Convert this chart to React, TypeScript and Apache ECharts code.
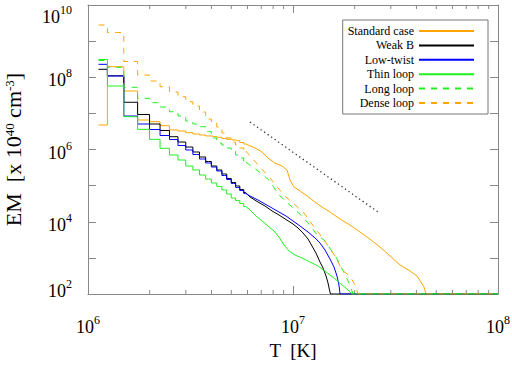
import React, { useEffect, useRef } from 'react';
import * as echarts from 'echarts';

// Bin centres (MK) of the low-temperature histogram part
const T_BINS_MK = [1.125, 1.375, 1.625, 1.875, 2.125, 2.375, 2.625, 2.875, 3.125, 3.375, 3.625, 3.875, 4.125, 4.375, 4.625, 4.875, 5.125, 5.375, 5.625, 5.875];

const STANDARD_LOW = [4.76e6, 1.96e8, 4.16e7, 6.56e6, 5.89e6, 4.56e6, 3.47e6, 3.25e6, 2.92e6, 2.69e6, 2.52e6, 2.37e6, 2.29e6, 2.18e6, 2.02e6, 1.91e6, 1.83e6, 1.75e6, 1.56e6, 1.42e6];
const WEAKB_LOW = [1.66e8, 1.10e8, 2.03e7, 9.3e6, 5.08e6, 3.36e6, 2.26e6, 1.61e6, 1.17e6, 8.53e5, 6.2e5, 4.65e5, 3.49e5, 2.71e5, 2.1e5, 1.57e5, 1.22e5, 9.8e4, 7.8e4, 6.46e4];
const LOWTWIST_LOW = [2.28e8, 1.08e8, 8.45e6, 5.08e6, 3.58e6, 2.44e6, 1.89e6, 1.29e6, 9.69e5, 7.27e5, 5.46e5, 4.23e5, 3.28e5, 2.54e5, 1.91e5, 1.48e5, 1.15e5, 8.87e4, 7.33e4, 6.06e4];
const THIN_LOW = [3.10e8, 5.73e7, 8.09e6, 3.62e6, 1.91e6, 1.08e6, 7.05e5, 5.12e5, 3.49e5, 2.71e5, 1.97e5, 1.52e5, 1.18e5, 9.5e4, 7.57e4, 5.86e4, 4.54e4, 3.87e4, 3.2e4, 2.64e4];
const LONG_LOW = [2.91e8, 1.88e8, 5.27e7, 2.61e7, 1.98e7, 1.5e7, 1.11e7, 8.45e6, 6.15e6, 5.08e6, 4.28e6, 3.11e6, 2.08e6, 1.51e6, 1.33e6, 1.1e6, 9.1e5, 7.05e5, 5.82e5, 4.51e5];
const DENSE_LOW = [2.79e9, 1.73e9, 2.73e8, 1.15e8, 7.87e7, 5.47e7, 3.91e7, 2.9e7, 2.1e7, 1.6e7, 1.09e7, 6.98e6, 5.77e6, 4.2e6, 2.86e6, 2.08e6, 1.61e6, 1.33e6, 1.1e6, 9.1e5];

// High-temperature part: [T (MK), EM]
const STANDARD_HIGH = [[5.875, 1.42e6], [6.53, 1.1e6], [7.06, 8.5e5], [7.55, 5.8e5], [8.17, 4.2e5], [8.84, 3.5e5], [9.35, 2.7e5], [9.67, 1.43e5], [10.11, 9.2e4], [10.82, 7.1e4], [11.7, 5.2e4], [12.81, 3.5e4], [13.85, 2.56e4], [15.15, 1.86e4], [16.96, 1.19e4], [18.97, 8.1e3], [21.22, 5.2e3], [23.74, 3.3e3], [26.57, 2.0e3], [29.72, 1.13e3], [33.26, 635], [37.21, 434], [40.26, 315], [42.11, 215], [43.56, 156], [44.55, 100], [100, 100]];
const WEAKB_HIGH = [[5.875, 6.46e4], [6.17, 4.84e4], [6.75, 3.52e4], [7.3, 2.73e4], [7.9, 1.99e4], [8.54, 1.54e4], [9.25, 1.15e4], [10.0, 8.67e3], [10.58, 6.71e3], [11.19, 4.89e3], [11.84, 3.33e3], [12.38, 2.13e3], [12.95, 1.36e3], [13.54, 769], [14.01, 525], [14.49, 315], [14.82, 202], [15.07, 129], [15.24, 100], [100, 100]];
const LOWTWIST_HIGH = [[5.875, 6.06e4], [6.17, 5.16e4], [6.75, 4.0e4], [7.3, 3.1e4], [7.9, 2.4e4], [8.54, 1.86e4], [9.25, 1.44e4], [10.0, 1.05e4], [10.82, 7.62e3], [11.84, 5.2e3], [12.81, 3.55e3], [13.54, 2.58e3], [14.33, 1.65e3], [15.15, 931], [15.85, 559], [16.39, 315], [16.76, 177], [16.96, 100], [100, 100]];
const THIN_HIGH = [[5.875, 2.64e4], [6.17, 2.11e4], [6.6, 1.44e4], [7.06, 1.05e4], [7.55, 7.62e3], [8.08, 5.55e3], [8.54, 3.78e3], [9.04, 2.27e3], [9.56, 1.55e3], [10.23, 1.2e3], [11.06, 993], [12.1, 769], [13.24, 596], [14.49, 406], [15.85, 277], [17.15, 189], [18.34, 137], [19.4, 100], [100, 100]];
const LONG_HIGH = [[5.875, 4.51e5], [6.45, 3.08e5], [7.06, 2.1e5], [7.72, 1.34e5], [8.45, 5.86e4], [10.0, 2.4e4], [11.06, 1.44e4], [11.84, 9.2e3], [13.24, 4.04e3], [14.17, 3.13e3], [16.21, 1.06e3], [17.74, 387], [18.97, 177], [19.62, 100], [100, 100]];
const DENSE_HIGH = [[5.875, 9.1e5], [6.24, 6.2e5], [6.83, 3.49e5], [7.72, 1.63e5], [8.45, 8.6e4], [9.35, 4.54e4], [10.0, 3.3e4], [11.31, 1.75e4], [12.66, 7.2e3], [14.17, 3.13e3], [16.03, 1.13e3], [17.34, 461], [18.97, 315], [20.07, 177], [20.75, 100], [100, 100]];

// Reference power-law line (T in MK, EM)
const REF_LINE = [[6.17, 5.77e6], [25.98, 1.86e4]];

const X_MINOR_TICKS = [2e6, 3e6, 4e6, 5e6, 6e6, 7e6, 8e6, 9e6, 2e7, 3e7, 4e7, 5e7, 6e7, 7e7, 8e7, 9e7];

const SERIES_DEFS = [
  { name: 'Standard case', color: '#ffa500', dashed: false, low: STANDARD_LOW, high: STANDARD_HIGH },
  { name: 'Weak B', color: '#000000', dashed: false, low: WEAKB_LOW, high: WEAKB_HIGH },
  { name: 'Low-twist', color: '#0000ff', dashed: false, low: LOWTWIST_LOW, high: LOWTWIST_HIGH },
  { name: 'Thin loop', color: '#22ee22', dashed: false, low: THIN_LOW, high: THIN_HIGH },
  { name: 'Long loop', color: '#22ee22', dashed: true, low: LONG_LOW, high: LONG_HIGH },
  { name: 'Dense loop', color: '#ffa500', dashed: true, low: DENSE_LOW, high: DENSE_HIGH },
];

const FONT = "'Liberation Serif', 'DejaVu Serif', serif";
const AXIS_COLOR = '#888888';

const labelRich = {
  b: { fontFamily: FONT, fontSize: 18, color: '#000', verticalAlign: 'bottom', padding: [6, 0, 0, 0] },
  s: { fontFamily: FONT, fontSize: 12, color: '#000', verticalAlign: 'bottom', padding: [0, 0, 10, 0] },
  bt: { fontFamily: FONT, fontSize: 18, color: '#000', verticalAlign: 'bottom', padding: [24, 0, 0, 0] },
  bb: { fontFamily: FONT, fontSize: 18, color: '#000', verticalAlign: 'bottom', padding: [0, 0, 10, 0] },
  sb: { fontFamily: FONT, fontSize: 12, color: '#000', verticalAlign: 'bottom', padding: [0, 0, 20, 0] },
};

export default function App() {
  const ref = useRef<HTMLDivElement>(null);
  useEffect(() => {
    if (!ref.current) return;
    const chart = echarts.init(ref.current, null, { renderer: 'svg' });
    const series: any[] = [];
    SERIES_DEFS.forEach((d) => {
      const lineStyle = { color: d.color, width: 1, type: d.dashed ? [6, 6] : 'solid' };
      series.push({
        name: d.name, type: 'line', step: 'middle', symbol: 'none', showSymbol: false, silent: true,
        data: T_BINS_MK.map((t, i) => [t * 1e6, d.low[i]]),
        lineStyle, itemStyle: { color: d.color },
      });
      series.push({
        name: d.name, type: 'line', symbol: 'none', showSymbol: false, silent: true,
        data: d.high.map(([t, v]) => [t * 1e6, v]),
        lineStyle, itemStyle: { color: d.color },
      });
    });
    series.push({
      name: 'ref', type: 'line', symbol: 'none', silent: true,
      data: REF_LINE.map(([t, v]) => [t * 1e6, v]),
      lineStyle: { color: '#333', width: 1.3, type: [1.3, 3] },
    });
    series.push({
      name: 'minorTicks', type: 'custom', silent: true, clip: false,
      data: X_MINOR_TICKS.map((v) => [v, 100]),
      renderItem: (params: any, api: any) => {
        const x = api.value(0);
        const b = api.coord([x, 1e2]);
        const t = api.coord([x, 1e10]);
        const st = { stroke: AXIS_COLOR, lineWidth: 1 };
        return {
          type: 'group',
          children: [
            { type: 'line', shape: { x1: b[0], y1: b[1], x2: b[0], y2: b[1] - 4 }, style: st },
            { type: 'line', shape: { x1: t[0], y1: t[1], x2: t[0], y2: t[1] + 4 }, style: st },
          ],
        };
      },
    });

    const expOf = (v: number) => Math.round(Math.log10(v));
    const axisCommon = {
      type: 'log', logBase: 10,
      axisLine: { show: true, lineStyle: { color: AXIS_COLOR, width: 1 } },
      axisTick: { show: true, inside: true, length: 8, lineStyle: { color: AXIS_COLOR } },
      splitLine: { show: false },
      minorTick: { show: false },
    };

    chart.setOption({
      animation: false,
      backgroundColor: '#ffffff',
      textStyle: { fontFamily: FONT },
      grid: { left: 88, top: 5, right: 14, bottom: 74, containLabel: false, outerBoundsMode: 'none' },
      legend: {
        data: SERIES_DEFS.map((d) => d.name),
        orient: 'vertical', align: 'right', right: 24, top: 20,
        padding: [5, 13, 5, 5], itemWidth: 55, itemHeight: 10, itemGap: 2.4,
        borderColor: '#777', borderWidth: 1, backgroundColor: '#fff',
        itemStyle: { opacity: 0 },
        textStyle: { fontFamily: FONT, fontSize: 12, color: '#000' },
        selectedMode: false,
      },
      xAxis: [
        {
          ...axisCommon, position: 'bottom', min: 1e6, max: 1e8, splitNumber: 2,
          axisLabel: {
            margin: 18, showMinLabel: true, showMaxLabel: true, fontFamily: FONT,
            formatter: (v: number) => `{b|10}{s|${expOf(v)}}`, rich: labelRich,
          },
          name: '{a|T  [K]}', nameLocation: 'middle', nameGap: 46,
          nameTextStyle: { fontFamily: FONT, rich: { a: { fontFamily: FONT, fontSize: 19, color: '#000' } } },
        },
        {
          ...axisCommon, position: 'top', min: 1e6, max: 1e8, splitNumber: 2,
          axisLabel: { show: false },
        },
      ],
      yAxis: [
        {
          ...axisCommon, position: 'left', min: 1e2, max: 1e10, splitNumber: 8,
          axisLabel: {
            margin: 16, showMinLabel: true, showMaxLabel: true, fontFamily: FONT,
            formatter: (v: number) => {
              const e = expOf(v);
              if (e % 2 !== 0) return '';
              if (e === 10) return `{bt|10}{s|${e}}`;
              if (e === 2) return `{bb|10}{sb|${e}}`;
              return `{b|10}{s|${e}}`;
            },
            rich: labelRich,
          },
          name: '{a|EM  [x 10}{s|40}{a| cm}{s|-3}{a|]}', nameLocation: 'middle', nameGap: 64,
          nameTextStyle: {
            fontFamily: FONT,
            rich: {
              a: { fontFamily: FONT, fontSize: 22, color: '#000', verticalAlign: 'bottom' },
              s: { fontFamily: FONT, fontSize: 13, color: '#000', verticalAlign: 'bottom', padding: [0, 0, 8, 0] },
            },
          },
        },
        {
          ...axisCommon, position: 'right', min: 1e2, max: 1e10, splitNumber: 8,
          axisLabel: { show: false },
        },
      ],
      series,
    });
    return () => chart.dispose();
  }, []);
  return <div ref={ref} style={{ position: 'fixed', left: 0, top: 0, width: 512, height: 368, background: '#fff' }} />;
}
